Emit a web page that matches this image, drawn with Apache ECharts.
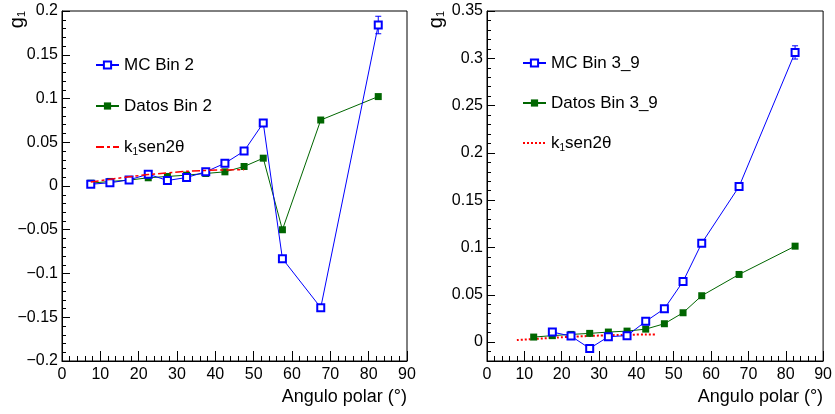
<!DOCTYPE html>
<html>
<head>
<meta charset="utf-8">
<script src="https://cdn.jsdelivr.net/npm/echarts@6/dist/echarts.min.js"></script>
<style>
html,body{margin:0;padding:0;background:#fff;}
#chart{width:835px;height:414px;}
</style>
</head>
<body>
<div id="chart"></div>
<script>
// ---- Left panel (Bin 2) ----
var xLeft = [7.5, 12.5, 17.5, 22.5, 27.5, 32.5, 37.5, 42.5, 47.5, 52.5, 57.5, 67.5, 82.5];
var mcLeft = [0.0020, 0.0037, 0.0070, 0.0135, 0.0063, 0.0097, 0.0162, 0.0260, 0.0399, 0.0720, -0.0830, -0.1390, 0.1840];
var datosLeft = [0.0032, 0.0052, 0.0067, 0.0094, 0.0109, 0.0124, 0.0143, 0.0162, 0.0223, 0.0318, -0.0500, 0.0754, 0.1022];
var mcErrLeft = [[82.5, 0.1840, 0.0100]];
var fitXLeft = [7.5, 17.5, 27.5, 37.5, 47.5];
var fitYLeft = [0.0045, 0.0105, 0.0150, 0.0178, 0.0186];
var yTicksLeft = [-0.2, -0.15, -0.1, -0.05, 0, 0.05, 0.1, 0.15, 0.2];

// ---- Right panel (Bin 3_9) ----
var xMcRight = [17.5, 22.5, 27.5, 32.5, 37.5, 42.5, 47.5, 52.5, 57.5, 67.5, 82.5];
var mcRight = [0.0106, 0.0063, -0.0067, 0.0057, 0.0068, 0.0219, 0.0353, 0.0641, 0.1045, 0.1644, 0.3062];
var xDatosRight = [12.5, 17.5, 22.5, 27.5, 32.5, 37.5, 42.5, 47.5, 52.5, 57.5, 67.5, 82.5];
var datosRight = [0.0053, 0.0068, 0.0081, 0.0092, 0.0106, 0.0116, 0.0137, 0.0194, 0.0310, 0.0490, 0.0715, 0.1014];
var mcErrRight = [[82.5, 0.3062, 0.0070]];
var fitXRight = [8, 17.5, 27.5, 37.5, 45];
var fitYRight = [0.0021, 0.0045, 0.0065, 0.0077, 0.0081];
var yTicksRight = [0, 0.05, 0.1, 0.15, 0.2, 0.25, 0.3, 0.35];
var yMinorRight = [-0.01, 0.01, 0.02, 0.03, 0.04, 0.06, 0.07, 0.08, 0.09, 0.11, 0.12, 0.13, 0.14,
  0.16, 0.17, 0.18, 0.19, 0.21, 0.22, 0.23, 0.24, 0.26, 0.27, 0.28, 0.29, 0.31, 0.32, 0.33, 0.34];

var xTicks = [0, 10, 20, 30, 40, 50, 60, 70, 80, 90];

var legendLeft = ['MC Bin 2', 'Datos Bin 2', 'k1sen2θ (Bin 2)'];
var legendRight = ['MC Bin 3_9', 'Datos Bin 3_9', 'k1sen2θ (Bin 3_9)'];

var FONT = "'Liberation Sans', Arial, Helvetica, sans-serif";
var BLUE = '#0000ff', GREEN = '#006600', RED = '#ff0000';

function pairs(xs, ys) { return xs.map(function (x, i) { return [x, ys[i]]; }); }
function fmtY(v) { return String(v).replace('-', '\u2212'); }

function xAxisFor(gi) {
  return {
    type: 'value', gridIndex: gi, min: 0, max: 90, interval: 10,
    axisLine: { show: true, onZero: false, lineStyle: { color: '#000', width: 1 } },
    axisTick: { show: true, inside: true, length: 10, lineStyle: { color: '#000' } },
    minorTick: { show: true, splitNumber: 5, length: 5, lineStyle: { color: '#000' } },
    splitLine: { show: false },
    axisLabel: { fontSize: 16, fontFamily: FONT, color: '#000', margin: 6 },
    name: 'Angulo polar (°)', nameLocation: 'end', nameGap: 0, nameMoveOverlap: false,
    nameTextStyle: { fontSize: 18, fontFamily: FONT, color: '#000', align: 'right', verticalAlign: 'top', padding: [27, 0, 0, 0] }
  };
}

function yName(pad) {
  return {
    name: '{g|g}{s|1}', nameLocation: 'end', nameGap: 0, nameRotate: 90, nameMoveOverlap: false,
    nameTextStyle: {
      fontFamily: FONT, color: '#000', align: 'right', verticalAlign: 'bottom', padding: [0, 0, pad, 0],
      rich: {
        g: { fontSize: 20, fontFamily: FONT, color: '#000' },
        s: { fontSize: 11, fontFamily: FONT, color: '#000', verticalAlign: 'bottom' }
      }
    }
  };
}

function legendFormatter(name) {
  if (name.indexOf('k1') === 0) return '{a|k}{s|1}{a|sen2θ}';
  return '{a|' + name + '}';
}
function legendFor(names, left, top, gap) {
  return {
    data: names.map(function (n) {
      return n.indexOf('k1') === 0 ? { name: n, itemStyle: { opacity: 0 } } : { name: n };
    }),
    orient: 'vertical', left: left, top: top, padding: 0, itemWidth: 23, itemHeight: 9, itemGap: gap,
    formatter: legendFormatter, selectedMode: false,
    textStyle: {
      fontSize: 17, fontFamily: FONT, color: '#000', lineHeight: 20,
      rich: {
        a: { fontSize: 17, fontFamily: FONT, color: '#000', lineHeight: 20 },
        s: { fontSize: 10, fontFamily: FONT, color: '#000', verticalAlign: 'bottom', lineHeight: 20, padding: [8, 0, 0, 0] }
      }
    }
  };
}

function errSeries(name, data, xi, yi) {
  return {
    name: name, type: 'custom', xAxisIndex: xi, yAxisIndex: yi, z: 1, data: data, silent: true,
    renderItem: function (params, api) {
      var x = api.value(0), y = api.value(1), e = api.value(2);
      var t = api.coord([x, y + e]), b = api.coord([x, y - e]);
      var st = { stroke: BLUE, lineWidth: 1 };
      return {
        type: 'group', children: [
          { type: 'line', shape: { x1: t[0], y1: t[1], x2: b[0], y2: b[1] }, style: st },
          { type: 'line', shape: { x1: t[0] - 3, y1: t[1], x2: t[0] + 3, y2: t[1] }, style: st },
          { type: 'line', shape: { x1: b[0] - 3, y1: b[1], x2: b[0] + 3, y2: b[1] }, style: st }
        ]
      };
    }
  };
}

var yLeft = Object.assign({
  type: 'value', gridIndex: 0, min: -0.2, max: 0.2, interval: 0.05,
  axisLine: { show: true, onZero: false, lineStyle: { color: '#000' } },
  axisTick: { show: true, inside: true, length: 8, lineStyle: { color: '#000' } },
  minorTick: { show: true, splitNumber: 5, length: 4, lineStyle: { color: '#000' } },
  splitLine: { show: false },
  axisLabel: { fontSize: 16, fontFamily: FONT, color: '#000', margin: 4, formatter: fmtY, showMinLabel: true, showMaxLabel: true }
}, yName(35));

var yRight = Object.assign({
  type: 'value', gridIndex: 1, min: -0.02, max: 0.35,
  axisLine: { show: true, onZero: false, lineStyle: { color: '#000' } },
  axisTick: { show: true, inside: true, length: 8, customValues: yTicksRight, lineStyle: { color: '#000' } },
  splitLine: { show: false },
  axisLabel: { fontSize: 16, fontFamily: FONT, color: '#000', margin: 4, customValues: yTicksRight, formatter: fmtY }
}, yName(41));

var yRightMinor = {
  type: 'value', gridIndex: 1, min: -0.02, max: 0.35, position: 'left',
  axisLine: { show: false, onZero: false },
  axisTick: { show: true, inside: true, length: 4, customValues: yMinorRight, lineStyle: { color: '#000' } },
  axisLabel: { show: false },
  splitLine: { show: false }
};

var option = {
  animation: false,
  backgroundColor: '#fff',
  grid: [
    { left: 62, top: 11, width: 345, height: 350, show: true, borderColor: '#000', borderWidth: 1, backgroundColor: 'transparent' },
    { left: 487, top: 11, width: 337, height: 350, show: true, borderColor: '#000', borderWidth: 1, backgroundColor: 'transparent' }
  ],
  xAxis: [xAxisFor(0), xAxisFor(1)],
  yAxis: [yLeft, yRight, yRightMinor],
  legend: [legendFor(legendLeft, 95, 55, 21), legendFor(legendRight, 522, 53, 20)],
  series: [
    { name: 'Datos Bin 2', type: 'line', xAxisIndex: 0, yAxisIndex: 0, z: 2, data: pairs(xLeft, datosLeft),
      symbol: 'rect', symbolSize: 7, lineStyle: { color: GREEN, width: 1 }, itemStyle: { color: GREEN } },
    errSeries('errL', mcErrLeft, 0, 0),
    { name: 'MC Bin 2', type: 'line', xAxisIndex: 0, yAxisIndex: 0, z: 3, data: pairs(xLeft, mcLeft),
      symbol: 'emptyRect', symbolSize: 7, lineStyle: { color: BLUE, width: 1 }, itemStyle: { color: BLUE, borderWidth: 1 } },
    { name: 'k1sen2θ (Bin 2)', type: 'line', xAxisIndex: 0, yAxisIndex: 0, z: 4, data: pairs(fitXLeft, fitYLeft),
      symbol: 'none', smooth: true, lineStyle: { color: RED, width: 1.5, type: [8, 3, 3, 3] }, itemStyle: { color: RED } },

    { name: 'Datos Bin 3_9', type: 'line', xAxisIndex: 1, yAxisIndex: 1, z: 2, data: pairs(xDatosRight, datosRight),
      symbol: 'rect', symbolSize: 7, lineStyle: { color: GREEN, width: 1 }, itemStyle: { color: GREEN } },
    errSeries('errR', mcErrRight, 1, 1),
    { name: 'MC Bin 3_9', type: 'line', xAxisIndex: 1, yAxisIndex: 1, z: 3, data: pairs(xMcRight, mcRight),
      symbol: 'emptyRect', symbolSize: 7, lineStyle: { color: BLUE, width: 1 }, itemStyle: { color: BLUE, borderWidth: 1 } },
    { name: 'k1sen2θ (Bin 3_9)', type: 'line', xAxisIndex: 1, yAxisIndex: 1, z: 1, data: pairs(fitXRight, fitYRight),
      symbol: 'none', smooth: true, lineStyle: { color: RED, width: 2, type: [2, 2] }, itemStyle: { color: RED } }
  ]
};

var chart = echarts.init(document.getElementById('chart'), null, { renderer: 'canvas' });
chart.setOption(option);
</script>
</body>
</html>
